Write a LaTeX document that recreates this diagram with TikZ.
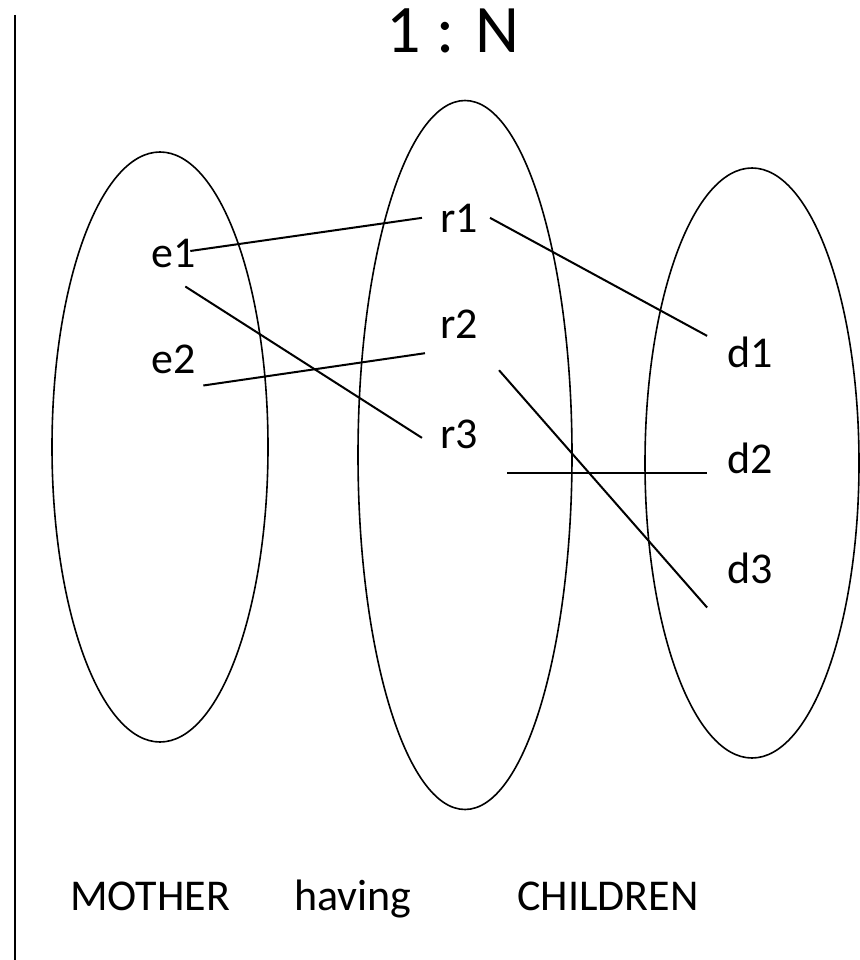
\documentclass[tikz,border=0pt]{standalone}
\usepackage{fontspec}
\setmainfont{Carlito}
\usepackage{tikz}
\usetikzlibrary{shapes.geometric, positioning, calc}
\tikzset{
    set/.style={ellipse, draw=black, line width=1.6pt, inner sep=0pt, minimum width=216pt},
    elem/.style={inner sep=0pt, anchor=base, font=\fontsize{44}{50}\selectfont},
    title/.style={inner sep=0pt, anchor=base, font=\fontsize{68}{76}\selectfont},
    link/.style={line width=2pt}
}

\begin{document}
\begin{tikzpicture}[x=1pt, y=-1pt]
    \useasboundingbox (0,0) rectangle (859,960);

    % --- Title and margin rule ---
    \node (ratio) [title] at (453,53) {1 : N};
    \draw [line width=2pt] (15,15) -- (15,960);

    % --- Sets ---
    \node (motherset) [set, minimum height=590pt] at (160,447) {};
    \node (havingset) [set, minimum height=709pt, minimum width=214pt] at (465,455) {};
    \node (childset) [set, minimum height=590pt, minimum width=214pt] at (752,463) {};

    % --- Elements ---
    \node (e1) [elem] at (174,267) {e1};
    \node (e2) [elem] at (174,373) {e2};
    \node (r1) [elem] at (459,232) {r1};
    \node (r2) [elem] at (459,338) {r2};
    \node (r3) [elem] at (459,448) {r3};
    \node (d1) [elem] at (750,367) {d1};
    \node (d2) [elem] at (750,473) {d2};
    \node (d3) [elem] at (750,583) {d3};

    % --- Links ---
    \draw [link] ([shift={(-6,-2)}]e1.east) -- ([shift={(-18,0)}]r1.west);
    \draw [link] ([shift={(-11,19)}]e1.south east) -- ([shift={(-18,4)}]r3.west);
    \draw [link] ([shift={(7,12)}]e2.south east) -- ([shift={(-15,15)}]r2.south west);
    \draw [link] ([shift={(12,0)}]r1.east) -- ([shift={(-20,-16)}]d1.west);
    \draw [link] ([shift={(21,32)}]r2.south east) -- ([shift={(-20,24)}]d3.south west);
    \draw [link] ([shift={(29,24)}]r3.south east) -- ([shift={(-20,-1)}]d2.south west);

    % --- Captions ---
    \node (mother) [elem] at (150,910) {MOTHER};
    \node (having) [elem] at (353,910) {having};
    \node (children) [elem] at (608,910) {CHILDREN};
\end{tikzpicture}
\end{document}
